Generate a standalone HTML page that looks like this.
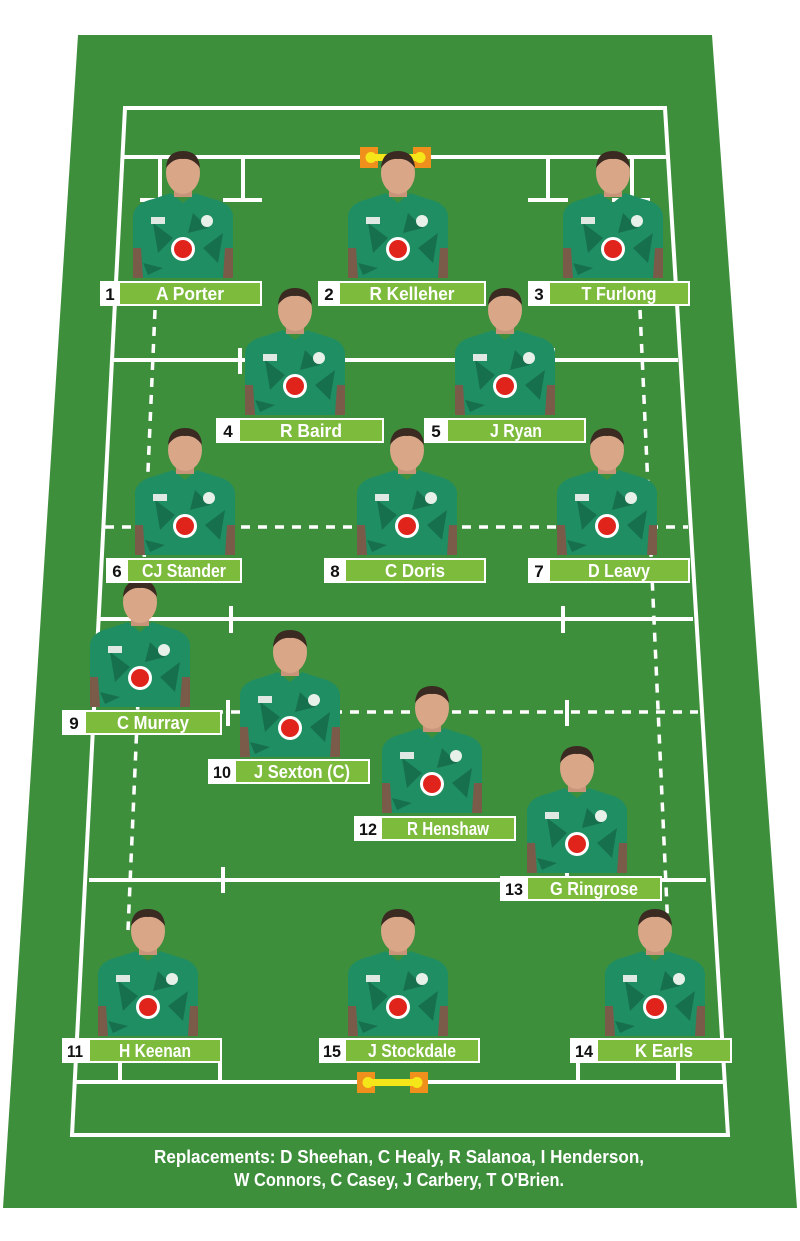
<!DOCTYPE html>
<html><head><meta charset="utf-8"><style>
html,body{margin:0;padding:0;background:#fff;}
svg{display:block;}
.nm{font-family:"Liberation Sans",sans-serif;font-weight:bold;font-size:18px;fill:#fff;text-anchor:middle;}
.nu{font-family:"Liberation Sans",sans-serif;font-weight:bold;font-size:17px;fill:#111;text-anchor:middle;}
.rp{font-family:"Liberation Sans",sans-serif;font-weight:bold;font-size:18px;fill:#fff;text-anchor:middle;}
</style></head><body>
<svg width="800" height="1241" viewBox="0 0 800 1241" xmlns="http://www.w3.org/2000/svg">
<defs>
<g id="pl">
<path d="M-50,125 L-50,62 Q-48,50 -30,46 L-12,40 L0,50 L12,40 L30,46 Q48,50 50,62 L50,125 Z" fill="#1f8e63"/>
<path d="M-30,70 L-10,85 L-25,100 Z M20,95 L40,80 L35,110 Z M-40,110 L-20,115 L-35,122 Z M10,60 L25,75 L5,80 Z" fill="#17704d"/>
<path d="M-50,125 L-50,95 L-42,95 L-40,125 Z M50,125 L50,95 L42,95 L40,125 Z" fill="#7a5a48"/>
<rect x="-9" y="30" width="18" height="14" fill="#c9957a"/>
<ellipse cx="0" cy="20" rx="17" ry="21" fill="#d9a688"/>
<path d="M-17,15 Q-16,-2 0,-2 Q16,-2 17,15 Q10,5 0,6 Q-10,5 -17,15 Z" fill="#3a2a22"/>
<circle cx="0" cy="96" r="12" fill="#fff"/>
<circle cx="0" cy="96" r="9" fill="#e0231b"/>
<circle cx="24" cy="68" r="6" fill="#e8f0ea"/>
<rect x="-32" y="64" width="14" height="7" fill="#dfe8e2"/>
</g>
<g id="gp">
<rect x="0" y="-10" width="18" height="21" fill="#f0901c"/>
<rect x="53" y="-10" width="18" height="21" fill="#f0901c"/>
<rect x="9" y="-3" width="53" height="7" fill="#f5e61a"/>
<circle cx="11" cy="0.5" r="5.5" fill="#f5e61a"/>
<circle cx="60" cy="0.5" r="5.5" fill="#f5e61a"/>
</g>
</defs>
<polygon points="78,35 712,35 797,1208 3,1208" fill="#3e8f3c"/>
<g stroke="#fff" stroke-width="4" fill="none">
<polygon points="125,108 665,108 728,1135 72,1135"/>
<line x1="122" y1="157" x2="668" y2="157"/>
<line x1="160" y1="157" x2="160" y2="200"/><line x1="140" y1="200" x2="170" y2="200"/>
<line x1="243" y1="157" x2="243" y2="200"/><line x1="223" y1="200" x2="262" y2="200"/>
<line x1="548" y1="157" x2="548" y2="200"/><line x1="528" y1="200" x2="568" y2="200"/>
<line x1="632" y1="157" x2="632" y2="200"/><line x1="612" y1="200" x2="650" y2="200"/>
<line x1="114" y1="360" x2="678" y2="360"/>
<line x1="240" y1="348" x2="240" y2="374"/><line x1="553" y1="348" x2="553" y2="374"/>
<line x1="98" y1="619" x2="693" y2="619"/>
<line x1="231" y1="606" x2="231" y2="633"/><line x1="563" y1="606" x2="563" y2="633"/>
<line x1="228" y1="700" x2="228" y2="726"/><line x1="567" y1="700" x2="567" y2="726"/>
<line x1="89" y1="880" x2="706" y2="880"/>
<line x1="223" y1="867" x2="223" y2="893"/><line x1="567" y1="867" x2="567" y2="893"/>
<line x1="75" y1="1082" x2="725" y2="1082"/>
<line x1="120" y1="1062" x2="120" y2="1082"/><line x1="220" y1="1062" x2="220" y2="1082"/>
<line x1="578" y1="1062" x2="578" y2="1082"/><line x1="678" y1="1062" x2="678" y2="1082"/>
</g>
<g stroke="#fff" stroke-width="3.5" fill="none" stroke-dasharray="9,8">
<line x1="105" y1="527" x2="688" y2="527"/>
<line x1="95" y1="712" x2="698" y2="712"/>
<line x1="155" y1="310" x2="128" y2="930"/>
<line x1="640" y1="310" x2="668" y2="930"/>
</g>
<use href="#gp" x="360" y="157"/>
<use href="#gp" x="357" y="1082"/>

<use href="#pl" x="183" y="153"/>
<use href="#pl" x="398" y="153"/>
<use href="#pl" x="613" y="153"/>
<use href="#pl" x="295" y="290"/>
<use href="#pl" x="505" y="290"/>
<use href="#pl" x="185" y="430"/>
<use href="#pl" x="407" y="430"/>
<use href="#pl" x="607" y="430"/>
<use href="#pl" x="140" y="582"/>
<use href="#pl" x="290" y="632"/>
<use href="#pl" x="432" y="688"/>
<use href="#pl" x="577" y="748"/>
<use href="#pl" x="148" y="911"/>
<use href="#pl" x="398" y="911"/>
<use href="#pl" x="655" y="911"/>

<g>
<rect x="100" y="281" width="162" height="25" fill="#fff"/><rect x="120" y="283" width="140" height="21" fill="#7dbb3c"/><text class="nu" x="110" y="300">1</text><text class="nm" x="190" y="300" textLength="68" lengthAdjust="spacingAndGlyphs">A Porter</text>
<rect x="318" y="281" width="168" height="25" fill="#fff"/><rect x="340" y="283" width="144" height="21" fill="#7dbb3c"/><text class="nu" x="329" y="300">2</text><text class="nm" x="412" y="300" textLength="85" lengthAdjust="spacingAndGlyphs">R Kelleher</text>
<rect x="528" y="281" width="162" height="25" fill="#fff"/><rect x="550" y="283" width="138" height="21" fill="#7dbb3c"/><text class="nu" x="539" y="300">3</text><text class="nm" x="619" y="300" textLength="75" lengthAdjust="spacingAndGlyphs">T Furlong</text>
<rect x="216" y="418" width="168" height="25" fill="#fff"/><rect x="240" y="420" width="142" height="21" fill="#7dbb3c"/><text class="nu" x="228" y="437">4</text><text class="nm" x="311" y="437" textLength="62" lengthAdjust="spacingAndGlyphs">R Baird</text>
<rect x="424" y="418" width="162" height="25" fill="#fff"/><rect x="448" y="420" width="136" height="21" fill="#7dbb3c"/><text class="nu" x="436" y="437">5</text><text class="nm" x="516" y="437" textLength="52" lengthAdjust="spacingAndGlyphs">J Ryan</text>
<rect x="106" y="558" width="136" height="25" fill="#fff"/><rect x="128" y="560" width="112" height="21" fill="#7dbb3c"/><text class="nu" x="117" y="577">6</text><text class="nm" x="184" y="577" textLength="84" lengthAdjust="spacingAndGlyphs">CJ Stander</text>
<rect x="324" y="558" width="162" height="25" fill="#fff"/><rect x="346" y="560" width="138" height="21" fill="#7dbb3c"/><text class="nu" x="335" y="577">8</text><text class="nm" x="415" y="577" textLength="60" lengthAdjust="spacingAndGlyphs">C Doris</text>
<rect x="528" y="558" width="162" height="25" fill="#fff"/><rect x="550" y="560" width="138" height="21" fill="#7dbb3c"/><text class="nu" x="539" y="577">7</text><text class="nm" x="619" y="577" textLength="62" lengthAdjust="spacingAndGlyphs">D Leavy</text>
<rect x="62" y="710" width="160" height="25" fill="#fff"/><rect x="86" y="712" width="134" height="21" fill="#7dbb3c"/><text class="nu" x="74" y="729">9</text><text class="nm" x="153" y="729" textLength="72" lengthAdjust="spacingAndGlyphs">C Murray</text>
<rect x="208" y="759" width="162" height="25" fill="#fff"/><rect x="236" y="761" width="132" height="21" fill="#7dbb3c"/><text class="nu" x="222" y="778" textLength="18" lengthAdjust="spacingAndGlyphs">10</text><text class="nm" x="302" y="778" textLength="96" lengthAdjust="spacingAndGlyphs">J Sexton (C)</text>
<rect x="354" y="816" width="162" height="25" fill="#fff"/><rect x="382" y="818" width="132" height="21" fill="#7dbb3c"/><text class="nu" x="368" y="835" textLength="18" lengthAdjust="spacingAndGlyphs">12</text><text class="nm" x="448" y="835" textLength="82" lengthAdjust="spacingAndGlyphs">R Henshaw</text>
<rect x="500" y="876" width="162" height="25" fill="#fff"/><rect x="528" y="878" width="132" height="21" fill="#7dbb3c"/><text class="nu" x="514" y="895" textLength="18" lengthAdjust="spacingAndGlyphs">13</text><text class="nm" x="594" y="895" textLength="88" lengthAdjust="spacingAndGlyphs">G Ringrose</text>
<rect x="62" y="1038" width="160" height="25" fill="#fff"/><rect x="90" y="1040" width="130" height="21" fill="#7dbb3c"/><text class="nu" x="75" y="1057" textLength="16" lengthAdjust="spacingAndGlyphs">11</text><text class="nm" x="155" y="1057" textLength="72" lengthAdjust="spacingAndGlyphs">H Keenan</text>
<rect x="319" y="1038" width="161" height="25" fill="#fff"/><rect x="346" y="1040" width="132" height="21" fill="#7dbb3c"/><text class="nu" x="332" y="1057" textLength="18" lengthAdjust="spacingAndGlyphs">15</text><text class="nm" x="412" y="1057" textLength="88" lengthAdjust="spacingAndGlyphs">J Stockdale</text>
<rect x="570" y="1038" width="162" height="25" fill="#fff"/><rect x="598" y="1040" width="132" height="21" fill="#7dbb3c"/><text class="nu" x="584" y="1057" textLength="18" lengthAdjust="spacingAndGlyphs">14</text><text class="nm" x="664" y="1057" textLength="58" lengthAdjust="spacingAndGlyphs">K Earls</text>
</g>
<text class="rp" x="399" y="1163" textLength="490" lengthAdjust="spacingAndGlyphs">Replacements: D Sheehan, C Healy, R Salanoa, I Henderson,</text>
<text class="rp" x="399" y="1186" textLength="330" lengthAdjust="spacingAndGlyphs">W Connors, C Casey, J Carbery, T O'Brien.</text>
</svg>
</body></html>
